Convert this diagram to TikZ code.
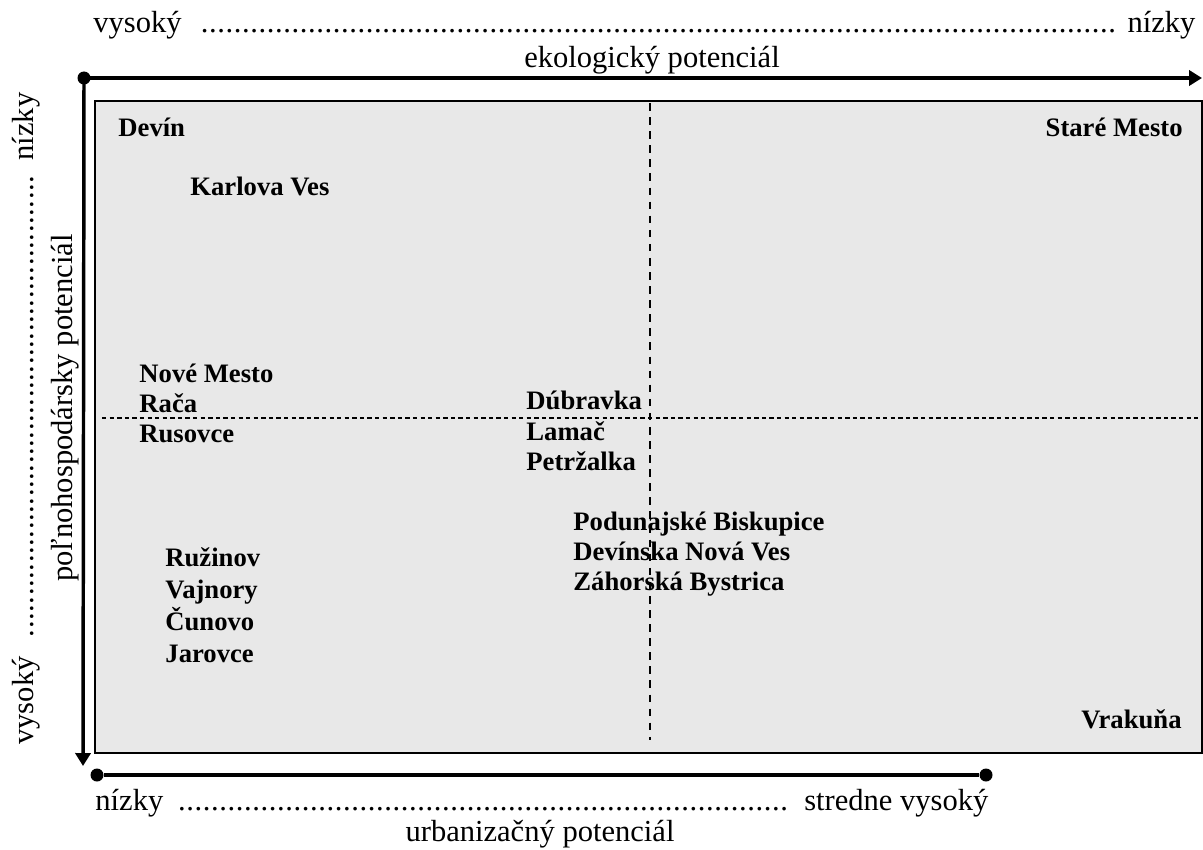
\documentclass[tikz,border=0pt]{standalone}
\usepackage{fontspec}
\setmainfont{Liberation Serif}
\usetikzlibrary{arrows.meta,positioning}
\newcommand{\dotrow}{\leaders\hbox to 0.27em{\hss.\hss}\hfill}
\tikzset{
  axisln/.style={line width=1.6pt},
  axisarr/.style={axisln,-{Triangle[length=6pt,width=7pt]}},
  bigdot/.style={circle,fill=black,inner sep=0pt,minimum size=6pt},
  quad/.style={draw=black,line width=0.9pt,fill=black!9},
  vsplit/.style={line width=0.9pt,dash pattern=on 3.5pt off 3pt},
  hsplit/.style={line width=0.9pt,dash pattern=on 2pt off 1.5pt},
  dist/.style={font=\fontsize{12.3}{15}\selectfont\bfseries,inner sep=0pt},
  axlbl/.style={font=\fontsize{14.1}{17}\selectfont,inner sep=0pt},
}
\begin{document}
\begin{tikzpicture}[x=0.4615pt,y=-0.4615pt]
  \useasboundingbox (0,0) rectangle (1203,849);
  % field and quadrant splits
  \draw[quad] (95,101) rectangle (1202,753);
  \coordinate (vtop) at (650,103);
  \coordinate (vbot) at (650,740);
  \coordinate (hleft) at (102,418);
  \coordinate (hright) at (1202,418);
  \draw[vsplit] (vtop) -- (vbot);
  \draw[hsplit] (hleft) -- (hright);
  % axes
  \node[bigdot] (origin) at (84,78) {};
  \coordinate (ecoend) at (1202,78);
  \coordinate (agrend) at (83,766);
  \draw[axisarr] (origin.center) -- (ecoend);
  \draw[axisarr] (origin.center) -- (agrend);
  \node[bigdot] (urbstart) at (97,775) {};
  \node[bigdot] (urbend) at (986,775) {};
  \draw[axisln] (urbstart) -- (urbend);
  % axis labels
  \node[axlbl,anchor=base west] (ecoscale) at (93,33) {\hbox to 508.6pt{vysoký\hspace{0.6em}\dotrow\ nízky}};
  \node[axlbl,anchor=base] (econame) at (652,67) {ekologický potenciál};
  \node[axlbl,anchor=base west] (urbscale) at (95,810) {\hbox to 412.1pt{nízky \dotrow\ stredne vysoký}};
  \node[axlbl,anchor=base] (urbname) at (540,841) {urbanizačný potenciál};
  \node[axlbl,rotate=90,anchor=base west] (agrscale) at (33,745) {\hbox to 300.9pt{vysoký\hspace{0.6em}\dotrow\ nízky}};
  \node[axlbl,rotate=90,anchor=base] (agrname) at (72,408) {poľnohospodársky potenciál};
  % districts
  \node[dist,anchor=base west] (devin) at (118,137) {Devín};
  \node[dist,anchor=base east] (staremesto) at (1183,137) {Staré Mesto};
  \node[dist,anchor=base west] (karlovaves) at (190,195) {Karlova Ves};
  \node[dist,anchor=base east] (vrakuna) at (1182,728) {Vrakuňa};
  \foreach \y/\lab [count=\i] in {382/Nové Mesto,412/Rača,442/Rusovce}
    \node[dist,anchor=base west] (nw\i) at (139,\y) {\lab};
  \foreach \y/\lab [count=\i] in {409/Dúbravka,440/Lamač,470/Petržalka}
    \node[dist,anchor=base west] (mid\i) at (526,\y) {\lab};
  \foreach \y/\lab [count=\i] in {530/Podunajské Biskupice,560/Devínska Nová Ves,590/Záhorská Bystrica}
    \node[dist,anchor=base west] (se\i) at (573,\y) {\lab};
  \foreach \y/\lab [count=\i] in {566/Ružinov,598/Vajnory,630/Čunovo,662/Jarovce}
    \node[dist,anchor=base west] (sw\i) at (165,\y) {\lab};
\end{tikzpicture}
\end{document}
